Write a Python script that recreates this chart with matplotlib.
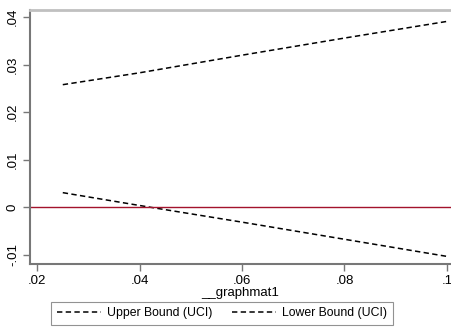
import matplotlib
matplotlib.use("Agg")
import matplotlib.pyplot as plt

x_vals = [0.025, 0.04, 0.06, 0.08, 0.1]
upper = [0.0258, 0.0283, 0.0320, 0.0356, 0.0391]
lower = [0.0031, 0.0004, -0.0031, -0.0067, -0.0103]
x_ticks = [0.02, 0.04, 0.06, 0.08, 0.1]
x_ticklabels = [".02", ".04", ".06", ".08", ".1"]
y_ticks = [-0.01, 0, 0.01, 0.02, 0.03, 0.04]
y_ticklabels = ["-.01", "0", ".01", ".02", ".03", ".04"]

plt.rcParams['font.family'] = ['Liberation Sans', 'DejaVu Sans']

fig = plt.figure(figsize=(4.52, 3.28), dpi=100)
ax = fig.add_axes([30/452, 64/328, 421/452, 254/328])

ax.plot(x_vals, upper, color='black', lw=1.1, dashes=(3.5, 2.2), label='Upper Bound (UCI)')
ax.plot(x_vals, lower, color='black', lw=1.1, dashes=(3.5, 2.2), label='Lower Bound (UCI)')
ax.axhline(0, color='#a3132c', lw=1.0)

ax.set_xlim(0.0186, 0.1008)
ax.set_ylim(-0.0119, 0.0415)
ax.set_xticks(x_ticks)
ax.set_xticklabels(x_ticklabels)
ax.set_yticks(y_ticks)
ax.set_yticklabels(y_ticklabels, rotation=90, va='center')
ax.tick_params(axis='both', direction='out', length=5, width=1, color='#777777', labelsize=9.5, pad=3)
ax.set_xlabel('__graphmat1', fontsize=9.5, labelpad=0)

for s in ['left', 'bottom']:
    ax.spines[s].set_color('#777777')
    ax.spines[s].set_linewidth(1.5)
ax.spines['top'].set_color('#c0c0c0')
ax.spines['top'].set_linewidth(2)
ax.spines['right'].set_visible(False)

leg = fig.legend(loc='center', bbox_to_anchor=(222/452, 1 - 313/328), ncol=2, fontsize=8.8,
                 frameon=True, fancybox=False, edgecolor='#777777', handlelength=3.6,
                 handletextpad=0.5, columnspacing=1.6, borderpad=0.45)
leg.get_frame().set_linewidth(0.8)

fig.savefig('out.png', dpi=100)
